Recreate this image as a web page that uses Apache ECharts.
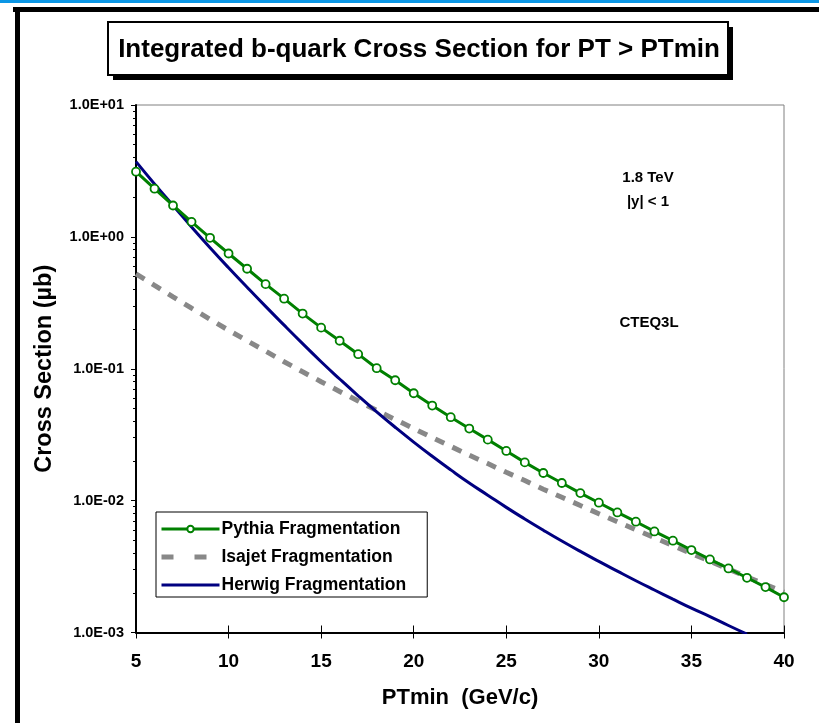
<!DOCTYPE html>
<html>
<head>
<meta charset="utf-8">
<script src="https://cdn.jsdelivr.net/npm/echarts@6/dist/echarts.min.js"></script>
<style>
  html, body { margin: 0; padding: 0; background: #fff; }
  #chart { width: 819px; height: 723px; }
</style>
</head>
<body>
<div id="chart"></div>
<script>
// Transverse momentum thresholds (GeV/c)
const ptMin = [5, 6, 7, 8, 9, 10, 11, 12, 13, 14, 15, 16, 17, 18, 19, 20, 21, 22,
  23, 24, 25, 26, 27, 28, 29, 30, 31, 32, 33, 34, 35, 36, 37, 38, 39, 40];

// Integrated cross sections (µb) for PT > PTmin
const pythia = [3.12, 2.32, 1.73, 1.30, 0.984, 0.748, 0.573, 0.438, 0.340, 0.262,
  0.205, 0.163, 0.129, 0.101, 0.0818, 0.0652, 0.0526, 0.0429, 0.0352, 0.0290,
  0.0238, 0.0195, 0.0162, 0.0136, 0.0114, 0.00964, 0.00814, 0.00692, 0.00584,
  0.00497, 0.00422, 0.00358, 0.00306, 0.00260, 0.00221, 0.00185];

const isajet = [0.525, 0.429, 0.351, 0.288, 0.237, 0.196, 0.163, 0.136, 0.113,
  0.0948, 0.0798, 0.0673, 0.0570, 0.0484, 0.0412, 0.0352, 0.0301, 0.0258, 0.0221,
  0.0191, 0.0164, 0.0142, 0.0122, 0.0106, 0.00918, 0.00796, 0.00692, 0.00601,
  0.00524, 0.00456, 0.00397, 0.00347, 0.00303, 0.00264, 0.00231, 0.00202];

const herwig = [3.72, 2.52, 1.73, 1.19, 0.828, 0.583, 0.415, 0.297, 0.214, 0.155,
  0.113, 0.0836, 0.0624, 0.0471, 0.0360, 0.0278, 0.0217, 0.0171, 0.0136, 0.0110,
  0.00889, 0.00726, 0.00597, 0.00494, 0.00412, 0.00346, 0.00292, 0.00247, 0.00210,
  0.00179, 0.00153, 0.00132, 0.00113, 0.000973];

// Axis ticks and their labels
const xTicks = [5, 10, 15, 20, 25, 30, 35, 40];
const yTicks = [0.001, 0.01, 0.1, 1, 10];
const yTickLabels = ['1.0E-03', '1.0E-02', '1.0E-01', '1.0E+00', '1.0E+01'];
const yMinorTicks = [];
for (let d = 0; d < yTicks.length - 1; d++) {
  for (let m = 2; m <= 9; m++) yMinorTicks.push(+(yTicks[d] * m).toPrecision(3));
}

const FONT = "'Liberation Sans', Arial, Helvetica, sans-serif";

// Legend key for the dashed series: two short thick dashes across the key width
const DASH_KEY = 'path://M0,0H12V5H0ZM33,0H45V5H33ZM57.9,0H58V0.1H57.9Z';

function pairs(ys) { return ys.map((v, i) => [ptMin[i], v]); }

const chart = echarts.init(document.getElementById('chart'), null, { renderer: 'canvas' });

chart.setOption({
  backgroundColor: '#ffffff',
  animation: false,
  textStyle: { fontFamily: FONT },
  grid: {
    left: 136, right: 35, top: 105, bottom: 90.5,
    show: true, borderColor: '#808080', borderWidth: 1, backgroundColor: '#fff'
  },
  legend: {
    orient: 'vertical',
    left: 156, top: 512,
    padding: [7, 21, 2, 4],
    itemWidth: 58, itemHeight: 8, itemGap: 8,
    backgroundColor: '#fff', borderColor: '#000', borderWidth: 1, borderRadius: 0,
    textStyle: {
      fontFamily: FONT, fontWeight: 'bold', fontSize: 17.5, color: '#000',
      lineHeight: 20, padding: [0, 0, 0, -3]
    },
    data: [
      { name: 'Pythia Fragmentation', lineStyle: { width: 3 } },
      { name: 'Isajet Fragmentation', icon: DASH_KEY, itemStyle: { color: '#888888' } },
      { name: 'Herwig Fragmentation', lineStyle: { width: 3 }, itemStyle: { opacity: 0 } }
    ]
  },
  xAxis: [{
    type: 'value', min: 5, max: 40, interval: 5,
    name: 'PTmin  (GeV/c)', nameLocation: 'middle', nameGap: 54,
    nameTextStyle: { fontFamily: FONT, fontWeight: 'bold', fontSize: 22, color: '#000' },
    axisLine: { show: true, lineStyle: { color: '#000', width: 2 } },
    axisTick: { show: true, inside: false, length: 6, lineStyle: { color: '#000', width: 1 } },
    axisLabel: {
      margin: 20, color: '#000', fontFamily: FONT, fontWeight: 'bold', fontSize: 19,
      customValues: xTicks
    },
    splitLine: { show: false }
  }, {
    type: 'value', min: 5, max: 40, interval: 5, position: 'bottom',
    axisLine: { show: false },
    axisTick: { show: true, inside: true, length: 7, lineStyle: { color: '#000', width: 1 } },
    axisLabel: { show: false },
    splitLine: { show: false }
  }],
  yAxis: [{
    type: 'log', logBase: 10, min: 0.001, max: 10,
    name: 'Cross Section (µb)', nameLocation: 'middle', nameGap: 79, nameRotate: 90,
    nameTextStyle: { fontFamily: FONT, fontWeight: 'bold', fontSize: 23.5, color: '#000' },
    axisLine: { show: true, lineStyle: { color: '#000', width: 2 } },
    axisTick: { show: true, inside: false, length: 5, customValues: yTicks, lineStyle: { color: '#000', width: 1 } },
    axisLabel: {
      margin: 12, color: '#000', fontFamily: FONT, fontWeight: 'bold', fontSize: 14.5,
      customValues: yTicks,
      formatter: v => {
        const i = yTicks.findIndex(t => Math.abs(Math.log10(t) - Math.log10(v)) < 1e-6);
        return i >= 0 ? yTickLabels[i] : '';
      }
    },
    splitLine: { show: false }
  }, {
    type: 'log', logBase: 10, min: 0.001, max: 10, position: 'left',
    axisLine: { show: false },
    axisTick: { show: true, inside: false, length: 3, customValues: yMinorTicks, lineStyle: { color: '#000', width: 1 } },
    axisLabel: { show: false },
    splitLine: { show: false }
  }],
  series: [{
    name: 'Pythia Fragmentation', type: 'line', xAxisIndex: 0, yAxisIndex: 0,
    data: pairs(pythia), smooth: false, clip: true,
    symbol: 'circle', symbolSize: 8,
    lineStyle: { color: '#008000', width: 3 },
    itemStyle: { color: '#ffffff', borderColor: '#008000', borderWidth: 1.8 },
    z: 4
  }, {
    name: 'Isajet Fragmentation', type: 'line', xAxisIndex: 0, yAxisIndex: 0,
    data: pairs(isajet), smooth: false, clip: true, symbol: 'none',
    lineStyle: { color: '#888888', width: 5, type: [10, 9], cap: 'butt' },
    itemStyle: { color: '#888888' },
    z: 2
  }, {
    name: 'Herwig Fragmentation', type: 'line', xAxisIndex: 0, yAxisIndex: 0,
    data: pairs(herwig), smooth: true, clip: true, symbol: 'none',
    lineStyle: { color: '#000080', width: 3 },
    itemStyle: { color: '#000080' },
    z: 3
  }],
  graphic: [
    { type: 'rect', shape: { x: 0, y: 0, width: 819, height: 3 }, style: { fill: '#0b96e5' }, silent: true },
    { type: 'rect', shape: { x: 13, y: 7, width: 806, height: 5 }, style: { fill: '#000' }, silent: true },
    { type: 'rect', shape: { x: 15, y: 7, width: 5, height: 716 }, style: { fill: '#000' }, silent: true },
    { type: 'rect', shape: { x: 113, y: 27, width: 620, height: 53 }, style: { fill: '#000' }, silent: true },
    { type: 'rect', shape: { x: 108, y: 22, width: 620, height: 53 }, style: { fill: '#fff', stroke: '#000', lineWidth: 2 }, silent: true },
    {
      type: 'text', x: 419, y: 50, silent: true,
      style: {
        text: 'Integrated b-quark Cross Section for PT > PTmin',
        font: "bold 26px " + FONT, fill: '#000', align: 'center', verticalAlign: 'middle'
      }
    },
    {
      type: 'text', x: 648, y: 178, silent: true,
      style: { text: '1.8 TeV', font: "bold 15px " + FONT, fill: '#000', align: 'center', verticalAlign: 'middle' }
    },
    {
      type: 'text', x: 648, y: 202, silent: true,
      style: { text: '|y| < 1', font: "bold 15px " + FONT, fill: '#000', align: 'center', verticalAlign: 'middle' }
    },
    {
      type: 'text', x: 649, y: 323, silent: true,
      style: { text: 'CTEQ3L', font: "bold 15px " + FONT, fill: '#000', align: 'center', verticalAlign: 'middle' }
    }
  ]
});
</script>
</body>
</html>
